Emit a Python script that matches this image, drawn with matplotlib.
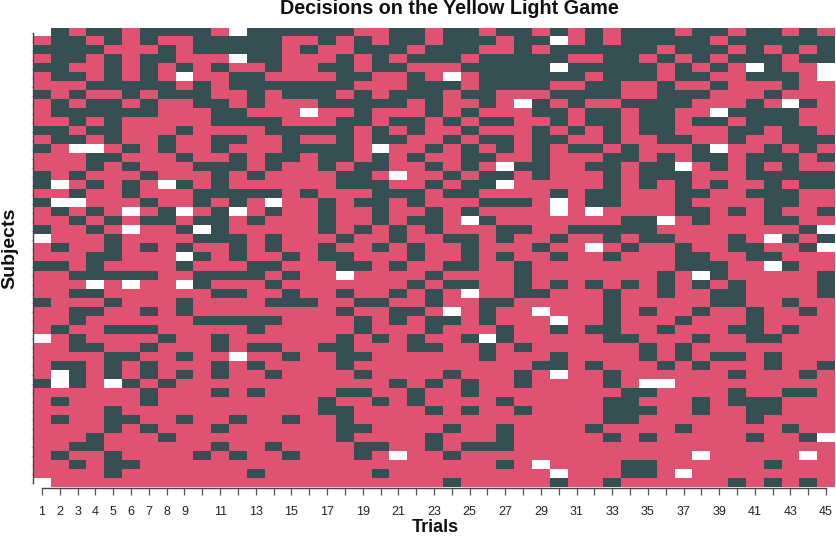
import numpy as np
import matplotlib
matplotlib.use("Agg")
import matplotlib.pyplot as plt
from matplotlib.colors import ListedColormap

trials = list(range(1, 46))
trial_labels = [1, 2, 3, 4, 5, 6, 7, 8, 9, 11, 13, 15, 17, 19, 21, 23, 25, 27, 29, 31, 33, 35, 37, 39, 41, 43, 45]
n_subjects = 51

# per subject (top to bottom): trials with the dark decision
dark_trials = [
    [2,4,5,7,8,9,10,13,14,15,16,17,18,21,22,24,25,27,28,30,32,34,35,36,38,39,41,42,44],
    [2,3,5,7,10,11,12,13,14,17,19,21,22,24,25,26,28,29,32,34,35,36,37,38,40,41,42,43,44,45],
    [1,2,3,4,8,10,11,12,13,14,16,19,20,21,23,24,25,28,30,31,32,33,34,35,37,38,39,41,43,45],
    [2,3,5,7,8,13,14,18,20,22,23,24,26,27,28,29,30,33,34,36,38,40,41,42,44,45],
    [1,2,5,7,9,11,14,17,18,20,21,25,26,27,28,29,31,32,33,34,35,37,39,42],
    [2,3,5,7,12,13,18,19,22,26,27,28,29,30,31,33,34,35,37,38,41,42,43],
    [4,5,6,7,8,10,12,13,14,15,16,17,18,22,23,24,26,27,28,29,32,33,36,39,43],
    [1,3,6,8,9,10,13,15,16,17,19,21,22,23,25,26,30,31,32,33,36,37,38,42],
    [2,4,5,7,10,11,13,17,18,19,20,21,23,26,29,31,34,35,36,37,41,44],
    [2,3,4,5,6,7,11,12,19,23,25,29,30,32,33,35,36,40,41,42,43],
    [3,5,11,12,13,14,18,19,21,22,24,26,27,30,32,33,35,36,38,39,41,42,43],
    [1,2,4,5,9,14,15,16,17,18,20,22,25,29,31,33,35,36,40,41,43,44],
    [2,3,5,8,11,12,15,18,20,21,24,26,27,29,30,33,36,37,40,43,44,45],
    [1,6,8,11,15,16,17,18,23,25,27,29,31,32,34,38,42,44],
    [4,5,9,12,14,15,17,18,20,22,25,26,29,33,34,36,38,39,41,42,43,45],
    [4,6,10,11,12,14,17,19,20,23,25,28,29,32,33,35,36,39,41,43],
    [1,3,7,11,13,18,19,24,26,27,29,33,35,36,37,41,42,43,44,45],
    [1,4,6,9,11,18,19,20,23,25,26,33,35,37,39,42,44,45],
    [3,6,10,11,12,13,14,16,20,21,22,24,25,30,32,33,37,38,41,42,43],
    [1,7,10,12,17,19,20,22,26,27,28,32,33,37,42,43],
    [2,4,8,11,14,17,20,23,25,37,38,40,42,45],
    [3,5,7,8,10,11,13,17,20,22,23,26,34,35,38,42,43],
    [1,4,9,11,17,19,21,23,27,28,31,32,33,34,35,44],
    [5,10,11,12,14,18,21,24,25,27,30,33,35,36,40,43,45],
    [2,5,7,9,12,14,17,20,22,25,29,34,37,40,41,44],
    [4,5,10,12,15,17,18,22,25,27,30,33,37,38,41,42],
    [1,2,4,9,13,14,18,19,21,24,25,28,37,38,39,43],
    [3,4,5,6,7,10,11,12,13,15,23,28,36,39,45],
    [10,14,22,24,25,28,30,32,34,36,38,40,45],
    [3,4,11,12,15,18,21,23,28,29,33,36,39,40,45],
    [1,5,9,14,15,16,19,20,23,26,27,33,39,40,43],
    [3,4,7,9,18,21,22,26,33,35,38,41,44],
    [3,10,11,12,13,14,19,21,23,24,26,33,37,41],
    [2,5,6,7,13,19,23,27,30,32,33,36,40,41,43],
    [3,8,11,18,20,22,25,27,33,34,38,41,42],
    [3,4,7,11,13,14,17,18,22,23,26,28,35,37],
    [5,6,9,15,18,19,26,30,35,37,39,40,42],
    [2,3,5,7,11,13,18,29,30,32,36,38,42,45],
    [3,5,7,9,11,14,19,24,28,33,40,44],
    [1,3,6,8,21,23,25,28,33],
    [7,11,13,18,19,22,25,34,35,40,43,44],
    [2,7,17,20,22,27,33,34,38,40,41,42],
    [5,17,18,23,25,28,33,34,35,38,41,42],
    [2,5,6,9,12,15,18,33,34,41],
    [5,7,11,18,19,24,27,32,37,43],
    [4,8,18,23,27,33,35,41,44],
    [3,4,11,14,19,20,23,25,26,27],
    [2,5,10,12,15,19,24],
    [3,5,6,27,34,35,42],
    [5,13,20,34,35],
    [24,30,33,40,42,44],
]

# (subject row, trial) pairs with no decision recorded
missing = [
    (0,1),(0,12),(1,30),(3,12),(4,30),(4,41),(4,45),(5,9),(5,24),(5,45),
    (8,28),(8,43),(9,16),(9,39),(13,3),(13,4),(13,20),(13,39),(15,27),(15,37),
    (16,21),(17,2),(17,8),(17,27),(19,2),(19,3),(19,14),(19,30),(20,6),(20,9),
    (20,12),(20,30),(20,32),(21,25),(21,36),(22,6),(22,10),(22,45),(23,1),(23,42),
    (24,32),(24,45),(25,9),(26,42),(27,18),(27,38),(28,4),(28,6),(28,9),(29,25),
    (31,24),(31,29),(32,30),(34,1),(34,26),(36,12),(38,2),(38,30),(39,2),(39,5),
    (39,35),(39,36),(45,45),(47,21),(47,38),(47,44),(48,29),(49,30),(49,37),(50,1),
]

decisions = np.zeros((n_subjects, len(trials)))
for i, row in enumerate(dark_trials):
    for t in row:
        decisions[i, t - 1] = 1
for i, t in missing:
    decisions[i, t - 1] = 2

cmap = ListedColormap(["#df5272", "#354f53", "#ffffff"])

plt.rcParams['font.family'] = ['Liberation Sans', 'DejaVu Sans']
fig = plt.figure(figsize=(8.37, 5.37), dpi=100)
ax = fig.add_axes([33 / 837, 1 - 487.5 / 537, 802 / 837, 459.5 / 537])
ax.imshow(decisions, cmap=cmap, vmin=0, vmax=2, aspect='auto', interpolation='nearest',
          extent=[0.5, 45.5, n_subjects, 0])

for s in ['top', 'right']:
    ax.spines[s].set_visible(False)
ax.spines['bottom'].set_color('#444444')
ax.spines['left'].set_color('#444444')
ax.spines['bottom'].set_linewidth(1.0)
ax.spines['left'].set_linewidth(1.0)
ax.spines['bottom'].set_bounds(1, 45)
ax.spines['left'].set_bounds(0.5, n_subjects - 0.5)

ax.set_xticks(trials)
ax.set_xticklabels([str(t) if t in trial_labels else '' for t in trials], fontsize=9, color='#222222')
ax.tick_params(axis='x', length=5, width=0.9, color='#555555', pad=8)
ax.set_yticks(np.arange(0.5, n_subjects))
ax.set_yticklabels([])
ax.tick_params(axis='y', length=1.5, width=0.5, color='#aaaaaa')

fig.text(449 / 837, 1 - 9 / 537, "Decisions on the Yellow Light Game", ha='center', va='center',
         fontsize=14.2, fontweight='bold', color='#111111')
fig.text(435 / 837, 1 - 528 / 537, "Trials", ha='center', va='center',
         fontsize=13, fontweight='bold', color='#111111')
fig.text(10 / 837, 1 - 248.5 / 537, "Subjects", ha='center', va='center', rotation=90,
         fontsize=14, fontweight='bold', color='#111111')

fig.savefig("out.png", dpi=100)
